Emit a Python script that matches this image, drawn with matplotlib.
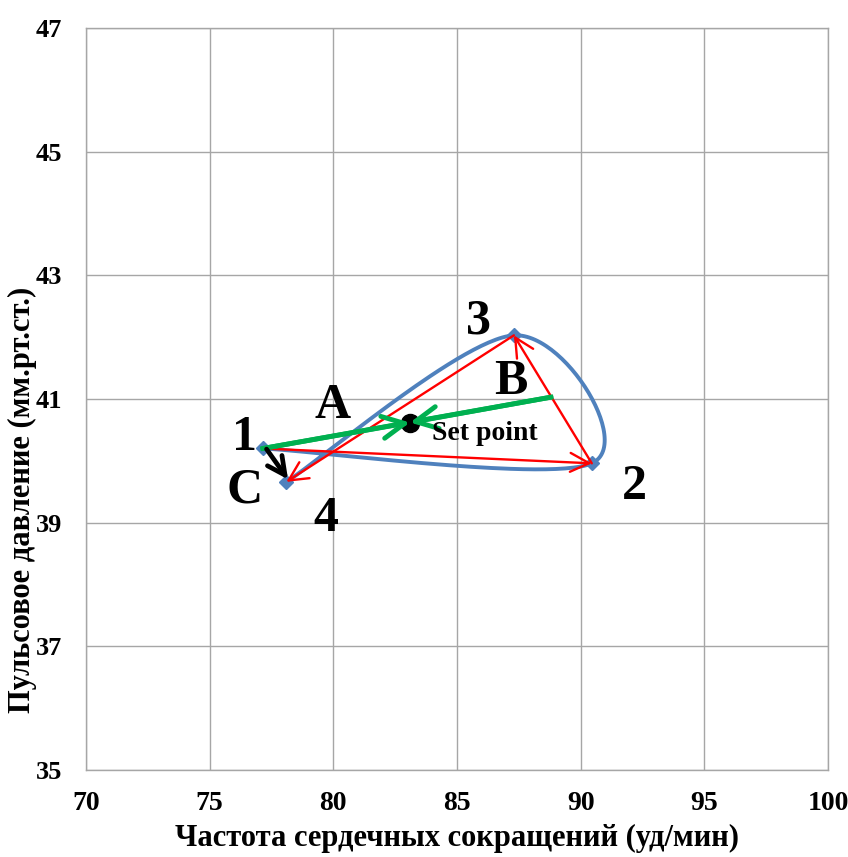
import matplotlib
matplotlib.use("Agg")
import matplotlib.pyplot as plt
import numpy as np

# loop points 1..4 (heart rate, pulse pressure)
loop_x = [77.15, 90.45, 87.3, 78.1]
loop_y = [40.2, 39.96, 42.03, 39.66]
loop_names = ["1", "2", "3", "4"]

set_point = (83.1, 40.62)
green_end = (88.8, 41.03)          # end of the green line (B)
c_start = (77.3, 40.19)           # black arrow (C)
c_end = (78.17, 39.70)

x_ticks = [70, 75, 80, 85, 90, 95, 100]
y_ticks = [35, 37, 39, 41, 43, 45, 47]

plt.rcParams['font.family'] = ['Liberation Serif', 'DejaVu Serif']
plt.rcParams['font.weight'] = 'bold'

BLUE = "#4F81BD"
RED = "#FF0000"
GREEN = "#00B050"
GRID = "#A6A6A6"


def smooth_curve(xs, ys, n=60):
    # excel-like smoothed scatter line (catmull-rom as cubic bezier)
    p = np.column_stack([xs, ys])
    pad = np.vstack([p[0], p, p[-1]])
    out = []
    t = np.linspace(0, 1, n)[:, None]
    for i in range(1, len(pad) - 2):
        p0, p1 = pad[i], pad[i + 1]
        c1 = p0 + (pad[i + 1] - pad[i - 1]) / 6.0
        c2 = p1 - (pad[i + 2] - pad[i]) / 6.0
        seg = ((1 - t) ** 3) * p0 + 3 * ((1 - t) ** 2) * t * c1 \
            + 3 * (1 - t) * t ** 2 * c2 + t ** 3 * p1
        out.append(seg)
    out = np.vstack(out)
    return out[:, 0], out[:, 1]


fig = plt.figure(figsize=(8.48, 8.57), dpi=100)
ax = fig.add_axes([0.1014, 0.1015, 0.875, 0.8658])

ax.set_xlim(70, 100)
ax.set_ylim(35, 47)
ax.set_xticks(x_ticks)
ax.set_yticks(y_ticks)
ax.grid(True, color=GRID, linewidth=1.0)
ax.set_axisbelow(True)
for s in ax.spines.values():
    s.set_color(GRID)
    s.set_linewidth(1.0)
ax.tick_params(length=0)
ax.tick_params(axis='x', pad=15, labelsize=20)
ax.tick_params(axis='y', pad=17, labelsize=19)

# blue smoothed loop
sx, sy = smooth_curve(loop_x, loop_y)
ax.plot(sx, sy, color=BLUE, linewidth=2.8, zorder=3)
ax.plot(loop_x, loop_y, linestyle='none', marker='D', markersize=7.5,
        color=BLUE, zorder=4)

# red arrows 1->2->3->4
for i in range(3):
    ax.annotate("", xy=(loop_x[i + 1], loop_y[i + 1]),
                xytext=(loop_x[i], loop_y[i]),
                arrowprops=dict(arrowstyle='->', color=RED, lw=1.7,
                                mutation_scale=34, shrinkA=0, shrinkB=0),
                zorder=5)

# green line with both arrows pointing at the set point
ax.plot([loop_x[0], green_end[0]], [loop_y[0], green_end[1]],
        color=GREEN, linewidth=3.5, zorder=6)
for start in [(loop_x[0], loop_y[0]), green_end]:
    ax.annotate("", xy=set_point, xytext=start,
                arrowprops=dict(arrowstyle='->', color=GREEN, lw=3.5,
                                mutation_scale=40, shrinkA=0, shrinkB=0),
                zorder=7)

ax.plot([set_point[0]], [set_point[1]], marker='o', markersize=13,
        color='black', zorder=6)

# black arrow C
ax.annotate("", xy=c_end, xytext=c_start,
            arrowprops=dict(arrowstyle='->', color='black', lw=3.4,
                            mutation_scale=32, shrinkA=0, shrinkB=0),
            zorder=8)

# labels
big = dict(fontsize=36, fontweight='bold', ha='center', va='center',
           textcoords='offset pixels', zorder=9)
label_offsets = {"1": (-18, 10), "2": (43, -24), "3": (-35, 14), "4": (39, -37)}
for name, x, y in zip(loop_names, loop_x, loop_y):
    ax.annotate(name, xy=(x, y), xytext=label_offsets[name], **big)
ax.annotate("C", xy=(loop_x[0], loop_y[0]), xytext=(-18, -42), **big)
ax.annotate("A", xy=set_point, xytext=(-77, 17), **big)
ax.annotate("B", xy=green_end, xytext=(-40, 15), **big)
ax.annotate("Set point", xy=set_point, xytext=(22, -11),
            textcoords='offset pixels', fontsize=20, fontweight='bold',
            ha='left', va='center', zorder=9)

fig.text(0.539, 1 - 838 / 857, "Частота сердечных сокращений (уд/мин)",
         ha='center', va='center', fontsize=22, fontweight='bold')
fig.text(22 / 848, 1 - 500 / 857, "Пульсовое давление (мм.рт.ст.)",
         ha='center', va='center', rotation=90, fontsize=22, fontweight='bold')

fig.savefig("out.png", dpi=100)
